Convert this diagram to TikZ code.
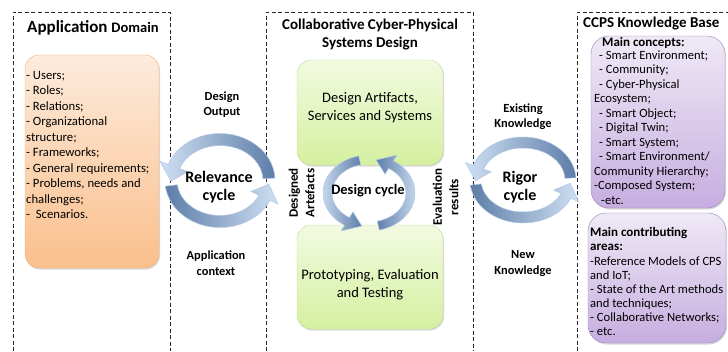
\documentclass[tikz,border=0pt]{standalone}
\usepackage{fontspec}
\setmainfont{Carlito}
\usetikzlibrary{shadows}

\definecolor{orangetop}{HTML}{FDEBDC}
\definecolor{orangebot}{HTML}{FABF8C}
\definecolor{orangeline}{HTML}{F5B07C}
\definecolor{greentop}{HTML}{F2FAE1}
\definecolor{greenbot}{HTML}{D5F0A0}
\definecolor{greenline}{HTML}{BFDC98}
\definecolor{purpletop}{HTML}{EFE9F6}
\definecolor{purplebot}{HTML}{C6AEE0}
\definecolor{purpleline}{HTML}{9C80C2}
\definecolor{ringlight}{HTML}{CFE0F3}
\definecolor{ringmid}{HTML}{A3BEE0}
\definecolor{ringdark}{HTML}{5D7DA8}
\definecolor{ringline}{HTML}{B2C8E4}

\tikzset{
  frame/.style={line width=1pt, black!85, dash pattern=on 4pt off 2.5pt},
  roundbox/.style={rounded corners=14pt, inner sep=0pt,
    drop shadow={shadow xshift=1pt, shadow yshift=-1.5pt, opacity=0.3}},
  orangebox/.style={roundbox, draw=orangeline, top color=orangetop, bottom color=orangebot},
  greenbox/.style={roundbox, draw=greenline, top color=greentop, bottom color=greenbot},
  purplebox/.style={roundbox, rounded corners=18pt, draw=purpleline, top color=purpletop, bottom color=purplebot},
  ringarrow/.style={draw=ringline, line width=0.5pt},
  lightleft/.style={left color=ringlight, middle color=ringmid, right color=ringdark},
  lightright/.style={left color=ringdark, middle color=ringmid, right color=ringlight},
  cyclelabel/.style={font=\fontsize{16}{18.5}\selectfont\bfseries, align=center, inner sep=0pt},
  flowlabel/.style={font=\fontsize{12.4}{15.5}\selectfont\bfseries, align=center, inner sep=0pt},
  sidelabel/.style={font=\fontsize{13}{16.5}\selectfont\bfseries, align=center, inner sep=0pt, rotate=90},
  boxtext/.style={font=\fontsize{14.5}{18}\selectfont, align=center, inner sep=0pt},
  listitem/.style={anchor=base west, inner sep=0pt, font=\fontsize{12.7}{14}\selectfont},
  kbitem/.style={anchor=base west, inner sep=0pt, font=\fontsize{12.6}{14}\selectfont},
  kbhead/.style={anchor=base west, inner sep=0pt, font=\fontsize{13}{14}\selectfont\bfseries},
}

\begin{document}
\begin{tikzpicture}[x=1pt, y=-1pt]
  \useasboundingbox (0,0) rectangle (728,351);

  % dashed frames, open at the bottom
  \draw[frame] (13,351) -- (13,12) -- (170,12) -- (170,351);
  \draw[frame] (266,351) -- (266,12) -- (473,12) -- (473,351);
  \draw[frame] (577,351) -- (577,12) -- (728,12);

  % application domain
  \node[anchor=base west, inner sep=0pt] (domtitle) at (27,32.5)
    {\fontsize{17}{18}\selectfont\bfseries Application {\fontsize{14.5}{15}\selectfont Domain}};
  \node[orangebox, minimum width=134pt, minimum height=213pt] (dom) at (92,161.5) {};
  \foreach \line [count=\i from 0] in {- Users;, - Roles;, - Relations;, - Organizational,
      structure;, - Frameworks;, - General requirements;, {- Problems, needs and},
      challenges;, - \ Scenarios.}
    \node[listitem] (dom\i) at (26,79+15.55*\i) {\line};

  % design
  \node[boxtext, font=\fontsize{15}{18}\selectfont\bfseries] (cpstitle) at (370,34)
    {Collaborative Cyber-Physical\\Systems Design};
  \node[greenbox, minimum width=146pt, minimum height=105pt] (artifacts) at (370,112.5) {};
  \node[greenbox, minimum width=146pt, minimum height=104pt] (testing) at (370,277) {};
  \node[boxtext] (artifactstxt) at (370,108) {Design Artifacts,\\Services and Systems};
  \node[boxtext] (testingtxt) at (370,285) {Prototyping, Evaluation\\and Testing};

  % knowledge base
  \node[anchor=base west, inner sep=0pt, font=\fontsize{15}{15}\selectfont\bfseries] (kbtitle) at (583,27)
    {CCPS Knowledge Base};
  \node[purplebox, minimum width=134pt, minimum height=172pt] (concepts) at (658,122) {};
  \node[purplebox, minimum width=138pt, minimum height=130pt] (areas) at (657,278) {};
  \node[kbhead] (conceptshead) at (602,46.5) {Main concepts:};
  \foreach \x/\line [count=\i from 0] in {599/- Smart Environment;, 599/- Community;,
      599/- Cyber-Physical, 594/Ecosystem;, 599/- Smart Object;, 599/- Digital Twin;,
      599/- Smart System;, 599/{- Smart Environment/}, 594/Community Hierarchy;,
      594/-Composed System;, 601/-etc.}
    \node[kbitem] (concept\i) at (\x,59+14.5*\i) {\line};
  \node[kbhead] (areashead) at (590,236) {Main contributing};
  \node[kbhead] (areashead2) at (590,250.5) {areas:};
  \foreach \line [count=\i from 0] in {-Reference Models of CPS, and IoT;,
      - State of the Art methods, and techniques;, - Collaborative Networks;, - etc.}
    \node[kbitem] (area\i) at (590,265+14.1*\i) {\line};

  % cycle arrows: centre, radii, thickness, start, base and tip angle
  \foreach \cx/\cy/\A/\B/\t/\s/\e/\p/\sty in {
      220/180.5/55/47/12/3/160/181/lightleft,
      220/180.5/55/47/12/187/335/355/lightright,
      523/180/53/43/11/3/160/181/lightleft,
      523/180/53/43/11/187/335/355/lightright,
      369/193/46/38/9/103/238/260/lightleft,
      369/193/46/38/9/283/418/440/lightright} {
    \pgfmathsetmacro\w{\t*0.75}
    \pgfmathsetmacro\Ai{\A-\t}  \pgfmathsetmacro\Bi{\B-\t}
    \pgfmathsetmacro\Am{\A-\t/2} \pgfmathsetmacro\Bm{\B-\t/2}
    \pgfmathsetmacro\Ao{\A+\w}  \pgfmathsetmacro\Bo{\B+\w}
    \pgfmathsetmacro\Aii{\A-\t-\w} \pgfmathsetmacro\Bii{\B-\t-\w}
    \draw[ringarrow, \sty, shift={(\cx,\cy)}]
      (\s:\A pt and \B pt) arc[start angle=\s, end angle=\e, x radius=\A pt, y radius=\B pt]
      -- (\e:\Ao pt and \Bo pt) -- (\p:\Am pt and \Bm pt) -- (\e:\Aii pt and \Bii pt)
      -- (\e:\Ai pt and \Bi pt)
      arc[start angle=\e, end angle=\s, x radius=\Ai pt, y radius=\Bi pt] -- cycle;
  }

  % cycle labels
  \node[flowlabel] (output) at (222,104.5) {Design\\Output};
  \node[cyclelabel] (relevance) at (219,187) {Relevance\\cycle};
  \node[flowlabel] (context) at (216,263) {Application\\context};
  \node[flowlabel] (existing) at (523,116.5) {Existing\\Knowledge};
  \node[cyclelabel] (rigor) at (520,187) {Rigor\\cycle};
  \node[flowlabel] (newknow) at (523,263.5) {New\\Knowledge};
  \node[cyclelabel, font=\fontsize{14.5}{18}\selectfont\bfseries] (designcycle) at (368,191) {Design cycle};
  \node[sidelabel] (designed) at (301.5,193) {Designed\\Artefacts};
  \node[sidelabel] (evaluation) at (445.5,197) {Evaluation\\results};
\end{tikzpicture}
\end{document}
